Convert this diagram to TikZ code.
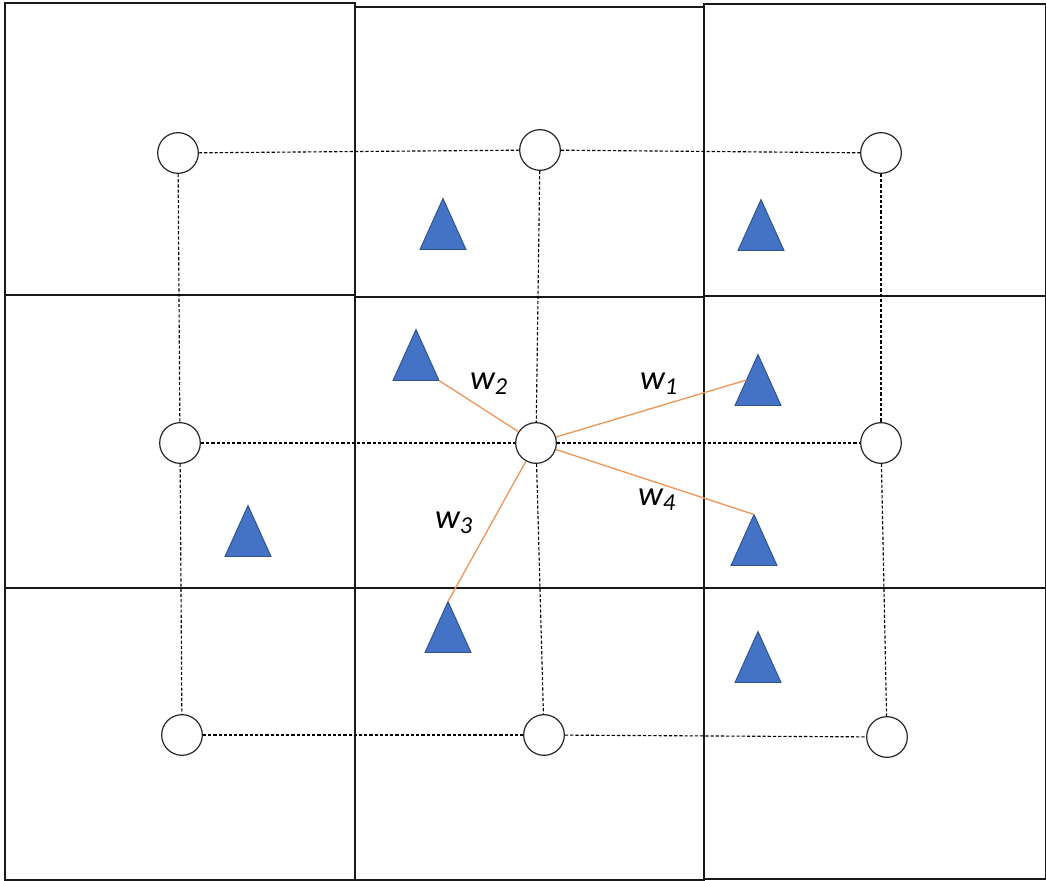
\documentclass[tikz,border=0pt]{standalone}
\usepackage{fontspec}
\setmainfont{Carlito}
\definecolor{triblue}{HTML}{4472C4}
\definecolor{triedge}{HTML}{2F528F}
\definecolor{wline}{RGB}{240,150,90}
\tikzset{
  cell/.style={draw=black!90, line width=1.6pt},
  site/.style={circle, draw=black!85, fill=white, line width=0.9pt, minimum size=30.5pt, inner sep=0pt},
  link/.style={draw=black, line width=0.85pt, dash pattern=on 2.4pt off 1.5pt},
  wedge/.style={draw=wline, line width=1pt},
  wlabel/.style={font=\fontsize{26}{30}\selectfont\itshape, inner sep=0pt},
  tri/.pic={
    \draw[fill=triblue, draw=triedge, line width=0.7pt] (-23,25.5) -- (0,-25.5) -- (23,25.5) -- cycle;
    \coordinate (-apex) at (0,-25.5);
    \coordinate (-rc) at (23,25.5);
    \coordinate (-ls) at (-11.5,0);
  }
}
\begin{document}
\begin{tikzpicture}[x=0.75pt, y=-0.75pt]
\useasboundingbox (0,0) rectangle (1046,881);
% grid cells
\draw[cell] (5,3) rectangle (355,295);
\draw[cell] (355,7) rectangle (704,297);
\draw[cell] (704,4) rectangle (1046,296);
\draw[cell] (5,295) rectangle (355,588);
\draw[cell] (355,297) rectangle (704,588);
\draw[cell] (704,296) rectangle (1046,588);
\draw[cell] (5,588) rectangle (355,880);
\draw[cell] (355,588) rectangle (704,880);
\draw[cell] (704,588) rectangle (1046,879);
% sites
\node[site] (a1) at (178,153) {};
\node[site] (a2) at (540,150) {};
\node[site] (a3) at (881,153) {};
\node[site] (b1) at (180,443) {};
\node[site] (c)  at (536,443) {};
\node[site] (b3) at (881,443) {};
\node[site] (d1) at (182,735) {};
\node[site] (d2) at (544,735) {};
\node[site] (d3) at (887,737) {};
% dashed links
\draw[link] (a1) -- (a2); \draw[link] (a2) -- (a3);
\draw[link] (b1) -- (c);  \draw[link] (c) -- (b3);
\draw[link] (d1) -- (d2); \draw[link] (d2) -- (d3);
\draw[link] (a1) -- (b1); \draw[link] (b1) -- (d1);
\draw[link] (a2) -- (c);  \draw[link] (c) -- (d2);
\draw[link] (a3) -- (b3); \draw[link] (b3) -- (d3);
% triangles
\pic (t1) at (443,224) {tri};
\pic (t2) at (761,225) {tri};
\pic (t3) at (416,355) {tri};
\pic (t4) at (758,380) {tri};
\pic (t5) at (248,531) {tri};
\pic (t6) at (754,540) {tri};
\pic (t7) at (448,627) {tri};
\pic (t8) at (758,657) {tri};
% weighted edges
\draw[wedge] (c) -- (t4-ls);
\draw[wedge] (c) -- (t3-rc);
\draw[wedge] (c) -- (t7-apex);
\draw[wedge] (c) -- (t6-apex);
% labels
\node[wlabel] (w1) at (659,384) {w\textsubscript{1}};
\node[wlabel] (w2) at (489,384) {w\textsubscript{2}};
\node[wlabel] (w3) at (454,523) {w\textsubscript{3}};
\node[wlabel] (w4) at (657,500) {w\textsubscript{4}};
\end{tikzpicture}
\end{document}
